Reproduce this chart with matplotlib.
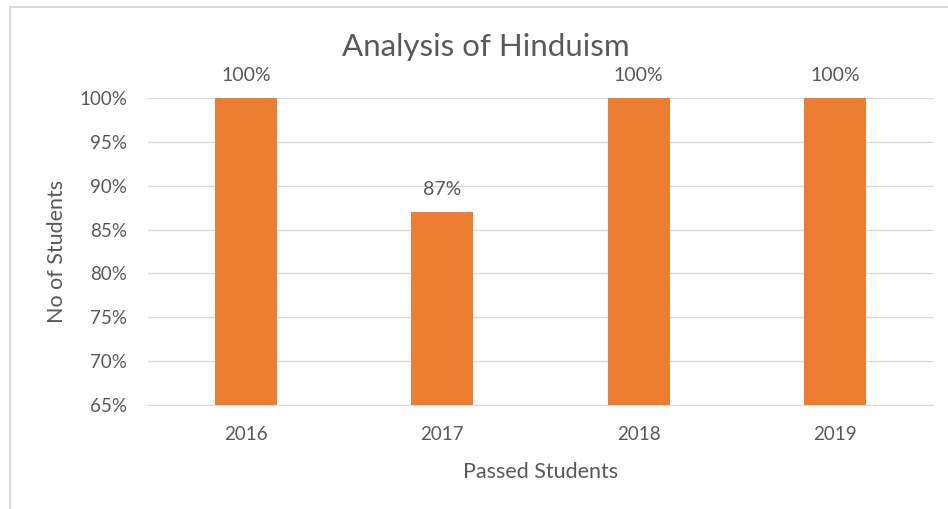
import matplotlib
matplotlib.use('Agg')
import matplotlib.pyplot as plt
from matplotlib.patches import Rectangle

years = ['2016', '2017', '2018', '2019']
passed = [1.00, 0.87, 1.00, 1.00]
yticks = [0.65, 0.70, 0.75, 0.80, 0.85, 0.90, 0.95, 1.00]

plt.rcParams['font.family'] = ['Lato', 'DejaVu Sans']
txt = '#595959'
grid = '#d9d9d9'

fig = plt.figure(figsize=(9.48, 5.09), dpi=100)
# chart frame, only left and top edges are visible in the picture
fig.patches.append(Rectangle((10 / 948, -0.1), 1.2, 1 - 7 / 509 + 0.1,
                             transform=fig.transFigure, fill=False,
                             edgecolor=grid, linewidth=1.5))
ax = fig.add_axes([148 / 948, 1 - 405 / 509, (933 - 148) / 948, (405 - 98) / 509])

x = range(len(years))
bars = ax.bar(x, passed, width=0.316, color='#ed7d31', zorder=3)
for b, v in zip(bars, passed):
    ax.annotate(f'{v:.0%}', (b.get_x() + b.get_width() / 2, v),
                xytext=(0, 16), textcoords='offset points',
                ha='center', va='center', fontsize=14, color=txt)

ax.set_ylim(0.65, 1.00)
ax.set_xlim(-0.5, 3.5)
ax.set_yticks(yticks)
ax.set_yticklabels([f'{t:.0%}' for t in yticks])
ax.set_xticks(list(x))
ax.set_xticklabels(years)
ax.yaxis.grid(True, color=grid, linewidth=1, zorder=0)
for s in ax.spines.values():
    s.set_visible(False)
ax.spines['bottom'].set_visible(True)
ax.spines['bottom'].set_color(grid)
ax.tick_params(length=0, colors=txt, labelsize=13.5)
ax.tick_params(axis='y', pad=15)
ax.tick_params(axis='x', pad=15)

ax.set_xlabel('Passed Students', fontsize=15.5, color=txt, labelpad=14)
ax.set_ylabel('No of Students', fontsize=15.5, color=txt, labelpad=9)
fig.text(486 / 948, 1 - 47 / 509, 'Analysis of Hinduism', ha='center', va='center',
         fontsize=22.5, color=txt)

fig.savefig('out.png', dpi=100)
